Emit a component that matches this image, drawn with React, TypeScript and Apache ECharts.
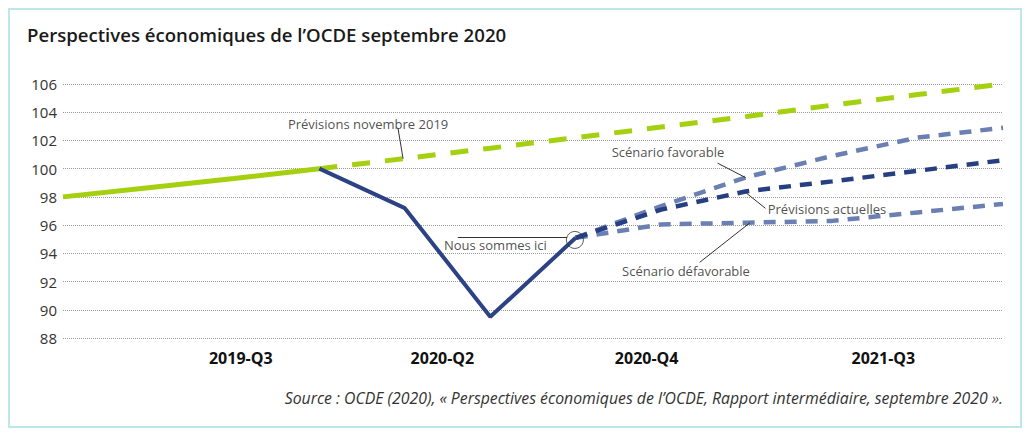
import React, { useEffect, useRef } from "react";
import * as echarts from "echarts";

// Quarters (x positions are quarter indices 0..11)
const quarters = [
  "2019-Q1", "2019-Q2", "2019-Q3", "2019-Q4",
  "2020-Q1", "2020-Q2", "2020-Q3", "2020-Q4",
  "2021-Q1", "2021-Q2", "2021-Q3", "2021-Q4",
];

// Tick labels on the x axis and where they sit (in quarter-index units)
const tickLabels = ["2019-Q3", "2020-Q2", "2020-Q4", "2021-Q3"];
const tickPositions = [2.08, 4.44, 6.83, 9.6];

// Series values
const preCovidActual = [98.0, 98.65, 99.3, 100.0]; // 2019-Q1 .. 2019-Q4
const forecastNov2019 = [100.0, 100.72, 101.45, 102.2, 102.95, 103.7, 104.5, 105.25, 106.0]; // 2019-Q4 .. 2021-Q4
const actual2020 = [100.0, 97.2, 89.5, 95.1]; // 2019-Q4 .. 2020-Q3
const currentForecast = [95.1, 97.1, 98.4, 99.1, 99.85, 100.6]; // 2020-Q3 .. 2021-Q4
const upsideScenario = [95.1, 97.35, 99.4, 100.9, 102.2, 102.9];
const downsideScenario = [95.1, 96.05, 96.17, 96.3, 96.9, 97.5];

// Annotations (data coordinates)
const annotationTexts = [
  "Prévisions novembre 2019",
  "Nous sommes ici",
  "Scénario favorable",
  "Prévisions actuelles",
  "Scénario défavorable",
];
const annotationAt = [
  [3.57, 103.18],
  [5.06, 94.58],
  [7.08, 101.15],
  [8.94, 97.14],
  [7.29, 92.74],
];
const leaderFrom = [
  [3.92, 102.87],
  [4.62, 95.12],
  [7.66, 100.39],
  [7.99, 98.3],
  [7.45, 93.36],
];
const leaderTo = [
  [3.98, 100.7],
  [5.9, 95.12],
  [7.99, 99.36],
  [8.22, 97.19],
  [8.04, 96.17],
];
const hereMarker = [5.99, 94.95];

const title = "Perspectives économiques de l’OCDE septembre 2020";
const source =
  "Source : OCDE (2020), « Perspectives économiques de l’OCDE, Rapport intermédiaire, septembre 2020 ».";

const FONT = "'Open Sans', 'Noto Sans', sans-serif";

const toPoints = (values: number[], start: number) =>
  values.map((v, i) => [start + i, v]);

export default function App() {
  const ref = useRef<HTMLDivElement>(null);

  useEffect(() => {
    if (!ref.current) return;
    const chart = echarts.init(ref.current, undefined, { renderer: "svg" });

    const green = "#a4d010";
    const navy = "#2c4284";
    const navyDash = "#263f82";
    const lightBlue = "#6a7fb2";

    const option: any = {
      animation: false,
      title: {
        text: title,
        left: 17,
        top: 15,
        padding: 0,
        textStyle: {
          fontFamily: FONT,
          fontSize: 18.6,
          fontWeight: 600,
          color: "#1a1a1a",
        },
      },
      grid: { left: 53, right: 17, top: 74, bottom: 88 },
      xAxis: {
        type: "value",
        min: 0,
        max: quarters.length - 1,
        axisLine: { show: false },
        axisTick: { show: false },
        splitLine: { show: false },
        axisLabel: {
          customValues: tickPositions,
          margin: 12,
          fontFamily: FONT,
          fontSize: 16,
          fontWeight: 700,
          color: "#111",
          formatter: (v: number) => {
            const k = tickPositions.findIndex((p) => Math.abs(p - v) < 1e-6);
            return k >= 0 ? tickLabels[k] : "";
          },
        },
      },
      yAxis: {
        type: "value",
        min: 88,
        max: 106,
        interval: 2,
        axisLine: { show: false },
        axisTick: { show: false },
        axisLabel: {
          margin: 6,
          fontFamily: FONT,
          fontSize: 15,
          color: "#333",
        },
        splitLine: {
          lineStyle: { type: [1, 1], color: "#9a9a9a", width: 1 },
        },
      },
      graphic: [
        {
          type: "text",
          right: 17,
          top: 380,
          style: {
            text: source,
            fontFamily: FONT,
            fontSize: 15.8,
            fontStyle: "italic",
            fill: "#333",
          },
        },
      ],
      series: [
        {
          name: "Réel 2019",
          type: "line",
          data: toPoints(preCovidActual, 0),
          showSymbol: false,
          symbol: "none",
          lineStyle: { color: green, width: 5 },
          z: 2,
        },
        {
          name: "Prévisions novembre 2019",
          type: "line",
          data: toPoints(forecastNov2019, 3),
          showSymbol: false,
          symbol: "none",
          lineStyle: { color: green, width: 5, type: [18, 15], cap: "butt" },
          z: 2,
        },
        {
          name: "Scénario défavorable",
          type: "line",
          data: toPoints(downsideScenario, 6),
          showSymbol: false,
          symbol: "none",
          lineStyle: { color: lightBlue, width: 4.5, type: [12, 9], cap: "butt" },
          z: 3,
        },
        {
          name: "Scénario favorable",
          type: "line",
          data: toPoints(upsideScenario, 6),
          showSymbol: false,
          symbol: "none",
          lineStyle: { color: lightBlue, width: 4.5, type: [12, 9], cap: "butt" },
          z: 3,
        },
        {
          name: "Prévisions actuelles",
          type: "line",
          data: toPoints(currentForecast, 6),
          showSymbol: false,
          symbol: "none",
          lineStyle: { color: navyDash, width: 4.5, type: [12, 9], cap: "butt" },
          z: 4,
        },
        {
          name: "Réel 2020",
          type: "line",
          data: toPoints(actual2020, 3),
          showSymbol: false,
          symbol: "none",
          lineStyle: { color: navy, width: 4 },
          z: 5,
        },
        {
          name: "Annotations",
          type: "scatter",
          symbolSize: 0,
          silent: true,
          z: 6,
          data: annotationTexts.map((t, i) => ({ name: t, value: annotationAt[i] })),
          label: {
            show: true,
            position: "inside",
            formatter: "{b}",
            fontFamily: FONT,
            fontSize: 13,
            color: "#222",
          },
          markLine: {
            silent: true,
            symbol: ["none", "none"],
            label: { show: false },
            lineStyle: { color: "#333", width: 1, type: "solid" },
            data: leaderFrom.map((f, i) => [{ coord: f }, { coord: leaderTo[i] }]),
          },
        },
        {
          name: "Ici",
          type: "scatter",
          silent: true,
          z: 7,
          symbol: "circle",
          symbolSize: 17,
          itemStyle: { color: "rgba(0,0,0,0)", borderColor: "#333", borderWidth: 1 },
          data: [hereMarker],
        },
      ],
    };

    chart.setOption(option);
    return () => chart.dispose();
  }, []);

  return (
    <div
      style={{
        width: 1014,
        height: 420,
        border: "2px solid #bde8eb",
        boxSizing: "border-box",
        background: "#fff",
      }}
    >
      <div ref={ref} style={{ width: 1010, height: 416 }} />
    </div>
  );
}
